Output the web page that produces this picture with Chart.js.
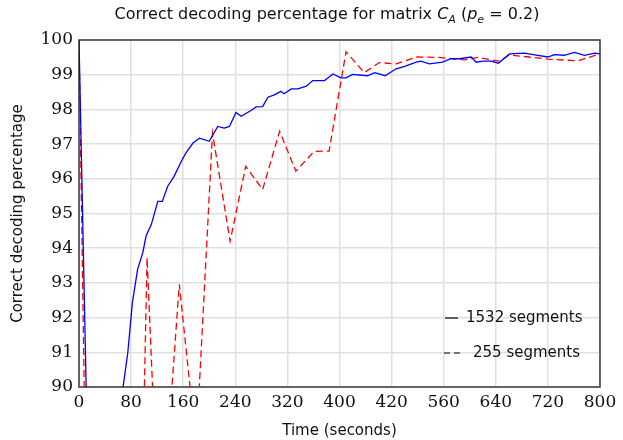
<!DOCTYPE html>
<html>
<head>
<meta charset="utf-8">
<script src="https://cdn.jsdelivr.net/npm/chart.js@4/dist/chart.umd.min.js"></script>
<style>
  html, body { margin: 0; padding: 0; background: #fff; }
  #wrap { width: 623px; height: 440px; }
</style>
</head>
<body>
<div id="wrap"><canvas id="chart" width="623" height="440"></canvas></div>
<script>
// データ
const xTickLabels = ['0', '80', '160', '240', '320', '400', '420', '560', '640', '720', '800'];
const yTickLabels = ['90', '91', '92', '93', '94', '95', '96', '97', '98', '99', '100'];

const seriesLabels = ['1532 segments', '255 segments'];

// 1532 segments (青・実線)
const blueTime = [0, 22, 55, 68, 75, 82, 90, 98, 103, 111, 121, 128, 136, 146, 157, 164, 175, 185, 200,
  213, 223, 231, 241, 249, 264, 272, 282, 290, 300, 310, 315, 326, 336, 349, 359, 377, 390, 402, 410,
  420, 443, 454, 470, 487, 500, 518, 525, 538, 558, 571, 584, 602, 610, 620, 633, 644, 661, 684, 700,
  720, 730, 745, 761, 776, 792, 800];
const blueValue = [100, 80, 80, 90.04, 91.0, 92.43, 93.39, 93.87, 94.35, 94.68, 95.35, 95.35, 95.78,
  96.07, 96.5, 96.74, 97.03, 97.17, 97.08, 97.51, 97.46, 97.51, 97.91, 97.8, 97.97, 98.07, 98.08, 98.35,
  98.42, 98.52, 98.45, 98.59, 98.59, 98.67, 98.83, 98.83, 99.02, 98.91, 98.91, 99.01, 98.97, 99.06,
  98.97, 99.17, 99.24, 99.36, 99.39, 99.31, 99.36, 99.46, 99.46, 99.51, 99.36, 99.39, 99.39, 99.33,
  99.6, 99.62, 99.57, 99.51, 99.58, 99.56, 99.64, 99.56, 99.62, 99.6];

// 255 segments (赤・破線)
const redTime = [0, 24, 95, 104.5, 122, 140, 154, 180, 205, 232, 256, 282, 308, 333, 361, 384, 410,
  438, 461, 487, 518, 551, 592, 612, 645, 661, 720, 766, 800];
const redValue = [100, 70, 85, 93.73, 86, 89.3, 92.96, 88.3, 97.32, 94.2, 96.36, 95.69, 97.37, 96.22,
  96.79, 96.8, 99.66, 99.06, 99.35, 99.31, 99.51, 99.5, 99.43, 99.5, 99.39, 99.57, 99.45, 99.4, 99.6];

const titleParts = [
  { text: 'Correct decoding percentage for matrix ', font: '16px "DejaVu Sans"', dy: 0 },
  { text: 'C', font: 'italic 16px "DejaVu Sans"', dy: 0 },
  { text: 'A', font: 'italic 11px "DejaVu Sans"', dy: 4 },
  { text: ' (', font: '16px "DejaVu Sans"', dy: 0 },
  { text: 'p', font: 'italic 16px "DejaVu Sans"', dy: 0 },
  { text: 'e', font: 'italic 11px "DejaVu Sans"', dy: 4 },
  { text: ' = 0.2)', font: '16px "DejaVu Sans"', dy: 0 }
];

const toPoints = (xs, ys) => xs.map((x, i) => ({ x: x, y: ys[i] }));

// タイトル (下付き文字あり)
const titlePlugin = {
  id: 'mathTitle',
  afterDraw(chart) {
    const ctx = chart.ctx;
    ctx.save();
    let total = 0;
    titleParts.forEach(p => { ctx.font = p.font; total += ctx.measureText(p.text).width; });
    let x = 327 - total / 2;
    const y = 19;
    ctx.fillStyle = '#111';
    ctx.textBaseline = 'alphabetic';
    titleParts.forEach(p => {
      ctx.font = p.font;
      ctx.fillText(p.text, x, y + p.dy);
      x += ctx.measureText(p.text).width;
    });
    ctx.restore();
  }
};

// 枠線
const framePlugin = {
  id: 'frame',
  beforeDatasetsDraw(chart) {
    const { ctx, chartArea: a } = chart;
    ctx.save();
    ctx.strokeStyle = '#444';
    ctx.lineWidth = 1.6;
    ctx.strokeRect(a.left, a.top, a.right - a.left, a.bottom - a.top);
    ctx.restore();
  }
};

// 凡例 (プロット内右下)
const legendPlugin = {
  id: 'innerLegend',
  afterDraw(chart) {
    const ctx = chart.ctx;
    ctx.save();
    ctx.strokeStyle = '#000';
    ctx.lineWidth = 1.2;
    ctx.fillStyle = '#111';
    ctx.font = '15px "DejaVu Sans"';
    ctx.textBaseline = 'middle';
    // solid
    ctx.beginPath();
    ctx.moveTo(445, 318); ctx.lineTo(458, 318);
    ctx.stroke();
    ctx.fillText(chart.data.datasets[0].label, 466, 318);
    // dashed
    ctx.setLineDash([6, 4]);
    ctx.beginPath();
    ctx.moveTo(444, 353); ctx.lineTo(460, 353);
    ctx.stroke();
    ctx.setLineDash([]);
    ctx.fillText(chart.data.datasets[1].label, 473, 353);
    ctx.restore();
  }
};

const tickFont = { family: '"DejaVu Serif"', size: 17 };

new Chart(document.getElementById('chart'), {
  type: 'line',
  data: {
    datasets: [
      {
        label: seriesLabels[0],
        data: toPoints(blueTime, blueValue),
        borderColor: '#0000ff',
        borderWidth: 1.3,
        pointRadius: 0,
        tension: 0
      },
      {
        label: seriesLabels[1],
        data: toPoints(redTime, redValue),
        borderColor: '#ff0000',
        borderWidth: 1.3,
        borderDash: [7, 4],
        pointRadius: 0,
        tension: 0
      }
    ]
  },
  options: {
    responsive: false,
    animation: false,
    layout: { padding: { top: 40, right: 23, left: 0, bottom: 0 } },
    plugins: {
      legend: { display: false },
      title: { display: false },
      tooltip: { enabled: false }
    },
    scales: {
      x: {
        type: 'linear',
        min: 0,
        max: 800,
        ticks: {
          stepSize: 80,
          autoSkip: false,
          maxRotation: 0,
          padding: 5,
          color: '#111',
          font: tickFont,
          callback: (v, i) => xTickLabels[i]
        },
        grid: { color: '#e0e0e0', lineWidth: 1.5, drawTicks: false },
        border: { display: false },
        title: {
          display: true,
          text: 'Time (seconds)',
          color: '#111',
          font: { family: '"DejaVu Sans"', size: 15 },
          padding: { top: 2, bottom: 0 }
        },
        afterFit: s => { s.height = 53; }
      },
      y: {
        min: 90,
        max: 100,
        ticks: {
          stepSize: 1,
          padding: 6,
          color: '#111',
          font: tickFont,
          callback: (v, i) => yTickLabels[i]
        },
        grid: { color: '#e0e0e0', lineWidth: 1.5, drawTicks: false },
        border: { display: false },
        title: {
          display: true,
          text: 'Correct decoding percentage',
          color: '#111',
          font: { family: '"DejaVu Sans"', size: 15 },
          padding: { top: 9, bottom: 4 }
        },
        afterFit: s => { s.width = 79; }
      }
    }
  },
  plugins: [framePlugin, titlePlugin, legendPlugin]
});
</script>
</body>
</html>
